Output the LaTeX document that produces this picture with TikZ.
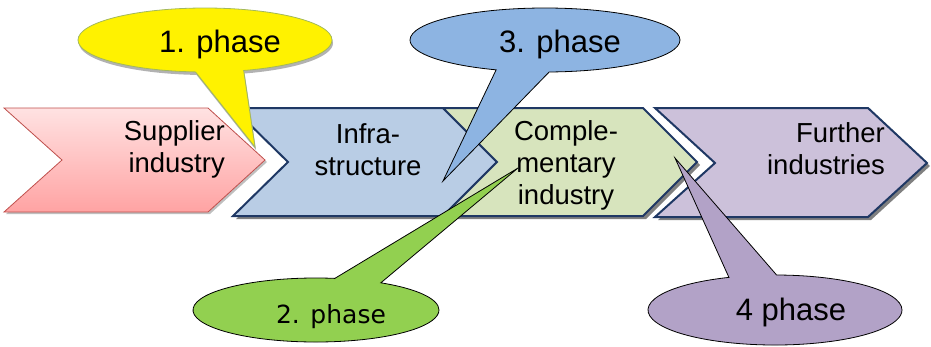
\documentclass[tikz,border=0pt]{standalone}
\usepackage{fontspec}
\setmainfont{Liberation Sans}
\newfontfamily\dejavu{DejaVu Sans}
\usetikzlibrary{shapes.callouts,shadows}
\definecolor{navy}{HTML}{1F3864}
\definecolor{pinkedge}{HTML}{C0504D}
\definecolor{pinktop}{HTML}{FFE2E2}
\definecolor{pinkbot}{HTML}{FFA3A3}
\definecolor{infrablue}{HTML}{B9CDE5}
\definecolor{complgreen}{HTML}{D7E4BD}
\definecolor{furtherlilac}{HTML}{CCC1DA}
\definecolor{olive}{HTML}{A3B85C}
\definecolor{calloutblue}{HTML}{8DB4E2}
\definecolor{calloutgreen}{HTML}{92D050}
\definecolor{calloutlilac}{HTML}{B2A2C7}
\begin{document}
\begin{tikzpicture}[x=1pt,y=-1pt,line join=miter,
	chev/.style={draw=navy,line width=2pt,drop shadow={shadow xshift=3pt,shadow yshift=-3pt,fill=black!50,opacity=1}},
	box/.style={inner sep=0pt,font=\fontsize{27.5}{32}\selectfont},
	bubble/.style={ellipse callout,draw=black,line width=0.8pt,inner sep=0pt,font=\fontsize{31}{36}\selectfont,text depth=6pt,callout pointer arc=23}]
	\useasboundingbox (0,0) rectangle (931,346);
	\shadedraw[top color=pinktop,bottom color=pinkbot,draw=pinkedge,line width=0.8pt,drop shadow={shadow xshift=2pt,shadow yshift=-2pt,fill=black!25,opacity=1}]
	(4,108) -- (208,108) -- (265,160) -- (208,212) -- (4,212) -- (62,160) -- cycle;
	\draw[chev,fill=infrablue] (233,108) -- (443,108) -- (497,162) -- (443,216) -- (233,216) -- (288,162) -- cycle;
	\draw[chev,fill=complgreen] (443,108) -- (643,108) -- (697,162) -- (643,216) -- (443,216) -- (497,162) -- cycle;
	\draw[chev,fill=furtherlilac] (655,108) -- (868,108) -- (927,163) -- (868,217) -- (655,217) -- (715,163) -- cycle;
	\node[box,anchor=east,align=right] (supplier) at (225,149) {Supplier\\industry};
	\node[box,align=center] (infra) at (368,150) {Infra-\\structure};
	\node[box,align=center] (compl) at (566,165) {Comple-\\mentary\\industry};
	\node[box,anchor=east,align=right] (further) at (885,149) {Further\\industries};
	\coordinate (tipone) at (255,147);
	\coordinate (tiptwo) at (518,168);
	\coordinate (tipthree) at (443,181);
	\coordinate (tipfour) at (675,158);
	\node[bubble,draw=olive,fill=yellow,minimum width=254pt,minimum height=64pt,text height=30pt,
	callout absolute pointer={(tipone)},callout pointer arc=22,
	drop shadow={shadow xshift=1pt,shadow yshift=-3pt,fill=black!30,opacity=1}] (phaseone) at (205,40) {\hspace*{30pt}1. phase};
	\node[bubble,fill=calloutblue,minimum width=270pt,minimum height=64pt,text height=30pt,
	callout absolute pointer={(tipthree)}] (phasethree) at (545,40) {\hspace*{30pt}3. phase};
	\node[bubble,fill=calloutgreen,minimum width=246pt,minimum height=64pt,text height=32pt,
	font=\dejavu\fontsize{25}{30}\selectfont,
	callout absolute pointer={(tiptwo)}] (phasetwo) at (316,310) {\hspace*{30pt}2. phase};
	\node[bubble,fill=calloutlilac,minimum width=254pt,minimum height=70pt,text height=26pt,
	callout absolute pointer={(tipfour)},callout pointer arc=22] (phasefour) at (775,310) {\hspace*{32pt}4 phase};
\end{tikzpicture}
\end{document}
